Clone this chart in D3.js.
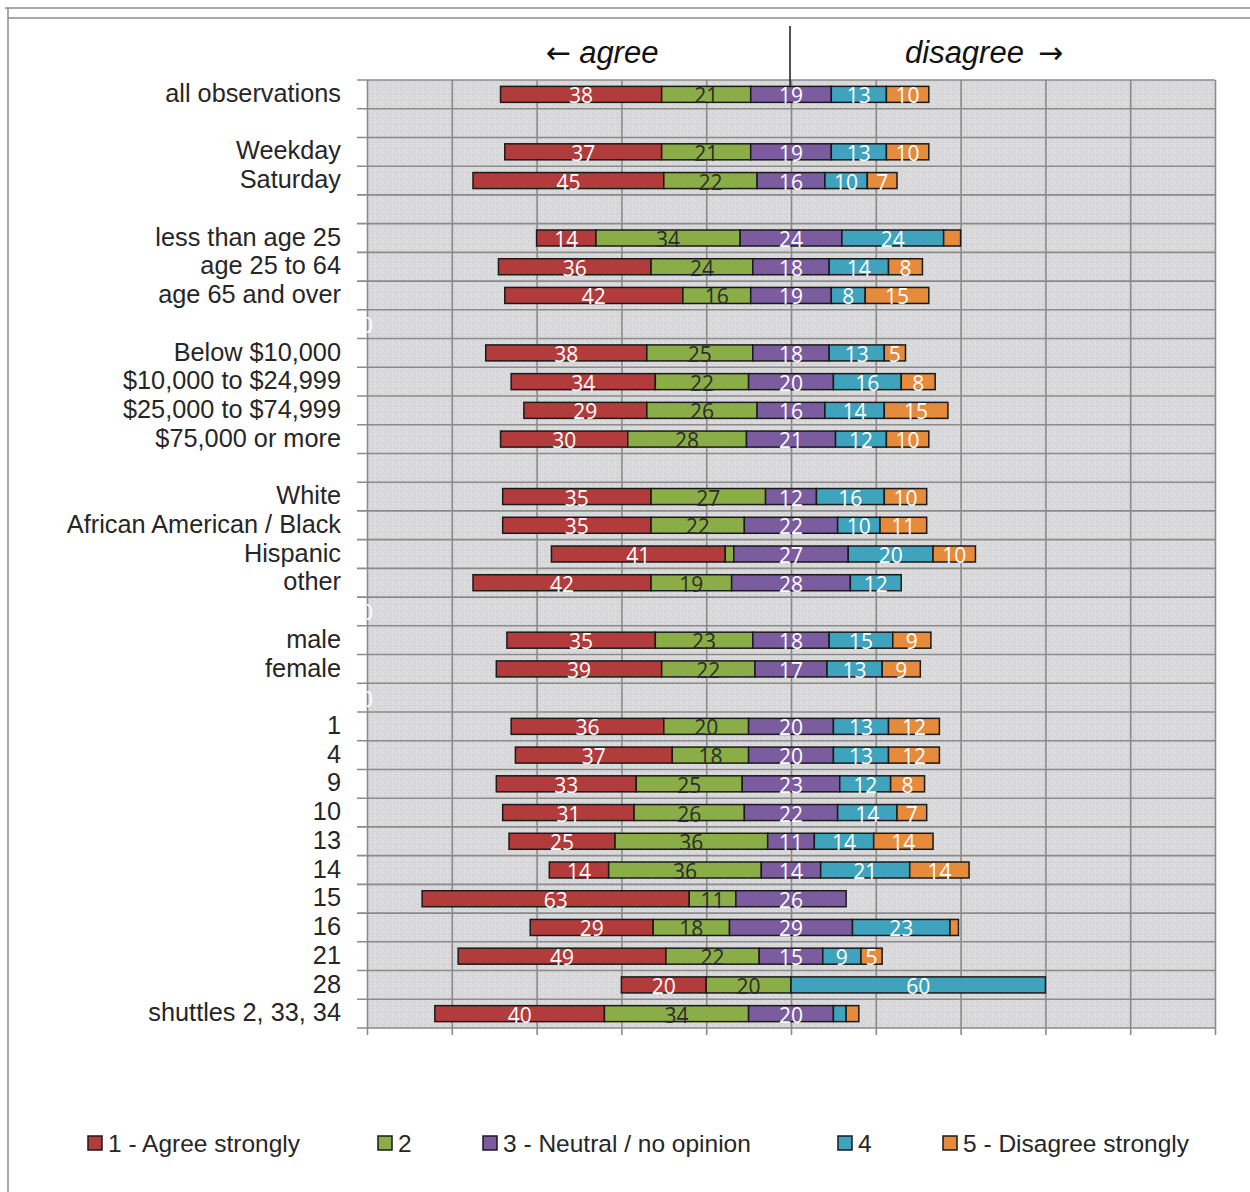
<!DOCTYPE html>
<html>
<head>
<meta charset="utf-8">
<script src="https://cdn.jsdelivr.net/npm/d3@7"></script>
<style>
  html, body { margin: 0; padding: 0; background: #ffffff; }
  svg { display: block; }
</style>
</head>
<body>
<svg id="chart" width="1250" height="1192"></svg>
<script>
// Row labels (empty strings are spacer rows between groups)
const categories = [
  "all observations", "",
  "Weekday", "Saturday", "",
  "less than age 25", "age 25 to 64", "age 65 and over", "",
  "Below $10,000", "$10,000 to $24,999", "$25,000 to $74,999", "$75,000 or more", "",
  "White", "African American / Black", "Hispanic", "other", "",
  "male", "female", "",
  "1", "4", "9", "10", "13", "14", "15", "16", "21", "28", "shuttles 2, 33, 34"
];

// Percent of responses per rating (null = spacer row)
const agreeStrongly    = [38, null, 37, 45, null, 14, 36, 42, null, 38, 34, 29, 30, null, 35, 35, 41, 42, null, 35, 39, null, 36, 37, 33, 31, 25, 14, 63, 29, 49, 20, 40];
const agree            = [21, null, 21, 22, null, 34, 24, 16, null, 25, 22, 26, 28, null, 27, 22,  2, 19, null, 23, 22, null, 20, 18, 25, 26, 36, 36, 11, 18, 22, 20, 34];
const neutral          = [19, null, 19, 16, null, 24, 18, 19, null, 18, 20, 16, 21, null, 12, 22, 27, 28, null, 18, 17, null, 20, 20, 23, 22, 11, 14, 26, 29, 15,  0, 20];
const disagree         = [13, null, 13, 10, null, 24, 14,  8, null, 13, 16, 14, 12, null, 16, 10, 20, 12, null, 15, 13, null, 13, 13, 12, 14, 14, 21,  0, 23,  9, 60,  3];
const disagreeStrongly = [10, null, 10,  7, null,  4,  8, 15, null,  5,  8, 15, 10, null, 10, 11, 10,  0, null,  9,  9, null, 12, 12,  8,  7, 14, 14,  0,  2,  5,  0,  3];

// Spacer rows whose offset series carries a visible "0" label
const zeroLabelRows = [8, 18, 21];

const seriesNames = ["1 - Agree strongly", "2", "3 - Neutral / no opinion", "4", "5 - Disagree strongly"];
const seriesColors = ["#b23c3c", "#8bad48", "#7b5d9f", "#3fa3be", "#e68a3b"];
const labelColors  = ["#ffffff", "#2b2b2b", "#ffffff", "#ffffff", "#ffffff"];
const xTicks = [-100, -80, -60, -40, -20, 0, 20, 40, 60, 80, 100];

const svg = d3.select("#chart");
const W = 1250, H = 1192;
const plot = { left: 367, right: 1215, top: 80, bottom: 1028 };
const textFont = "'Liberation Sans', Arial, sans-serif";

const x = d3.scaleLinear().domain([-100, 100]).range([plot.left, plot.right]);
const y = d3.scaleBand().domain(d3.range(categories.length)).range([plot.top, plot.bottom]).paddingInner(0);
const barH = 16;

// Textured plot background
const defs = svg.append("defs");
const pat = defs.append("pattern").attr("id", "speckle").attr("patternUnits", "userSpaceOnUse")
  .attr("width", 6).attr("height", 6);
pat.append("rect").attr("width", 6).attr("height", 6).attr("fill", "#d9d9d9");
[[0,0,"#cfcbd8"],[3,1,"#e4e4e4"],[1,3,"#d0d0d4"],[4,4,"#cbc8d6"],[5,2,"#e2e2e2"],[2,5,"#e6e6e6"]].forEach(([px, py, c]) =>
  pat.append("rect").attr("x", px).attr("y", py).attr("width", 1).attr("height", 1).attr("fill", c));
defs.append("clipPath").attr("id", "plotClip").append("rect")
  .attr("x", plot.left).attr("y", plot.top).attr("width", plot.right - plot.left).attr("height", plot.bottom - plot.top);

// Outer frame lines
const frame = svg.append("g").attr("stroke", "#8c8c8c").attr("stroke-width", 1.5).attr("fill", "none");
frame.append("line").attr("x1", 5).attr("x2", W).attr("y1", 8).attr("y2", 8);
frame.append("line").attr("x1", 8).attr("x2", W).attr("y1", 18).attr("y2", 18);
frame.append("line").attr("x1", 8).attr("x2", 8).attr("y1", 8).attr("y2", H);

svg.append("rect").attr("x", plot.left).attr("y", plot.top)
  .attr("width", plot.right - plot.left).attr("height", plot.bottom - plot.top)
  .attr("fill", "url(#speckle)");

// Vertical gridlines with ticks below the plot
const gx = svg.append("g").attr("transform", `translate(0,${plot.bottom + 7})`)
  .call(d3.axisBottom(x).tickValues(xTicks).tickSize(-(plot.bottom - plot.top + 7)).tickFormat(""));
gx.select(".domain").remove();
gx.selectAll(".tick line").attr("stroke", "#8a8a8a").attr("stroke-width", 1.6);

// Horizontal gridlines at row boundaries, with ticks left of the plot
const edges = d3.range(categories.length + 1).map(i => i < categories.length ? y(i) : plot.bottom);
svg.append("g").selectAll("line").data(edges).join("line")
  .attr("x1", plot.left - 10).attr("x2", plot.right)
  .attr("y1", d => d).attr("y2", d => d)
  .attr("stroke", "#8a8a8a").attr("stroke-width", 1.6);

// Category axis labels
const gy = svg.append("g").attr("transform", `translate(${plot.left},0)`)
  .call(d3.axisLeft(y).tickSize(0).tickPadding(26).tickFormat(i => categories[i]));
gy.select(".domain").remove();
gy.selectAll("text").attr("font-family", textFont).attr("font-size", 25.3)
  .attr("fill", "#262626").attr("dy", "0.3em");

// Build diverging segments: bar centred on the middle of the neutral share
const allSeries = [agreeStrongly, agree, neutral, disagree, disagreeStrongly];
const segments = [];
categories.forEach((c, i) => {
  if (agreeStrongly[i] === null) return;
  let start = -(agreeStrongly[i] + agree[i] + neutral[i] / 2);
  allSeries.forEach((s, k) => {
    const v = s[i];
    if (v > 0) segments.push({ row: i, k, v, x0: start, x1: start + v });
    start += v;
  });
});

const bars = svg.append("g");
bars.selectAll("rect").data(segments).join("rect")
  .attr("x", d => x(d.x0)).attr("width", d => x(d.x1) - x(d.x0))
  .attr("y", d => y(d.row) + y.bandwidth() / 2 - barH / 2).attr("height", barH)
  .attr("fill", d => seriesColors[d.k])
  .attr("stroke", "#1a1a1a").attr("stroke-width", 1.5);

// Value labels
bars.selectAll("text").data(segments.filter(d => d.v >= 5)).join("text")
  .attr("x", d => x((d.x0 + d.x1) / 2))
  .attr("y", d => y(d.row) + y.bandwidth() / 2 + 9)
  .attr("text-anchor", "middle")
  .attr("font-family", "'Open Sans', sans-serif").attr("font-size", 21)
  .attr("fill", d => labelColors[d.k])
  .text(d => d.v);

// Offset-series zero labels, clipped at the plot edge
svg.append("g").attr("clip-path", "url(#plotClip)")
  .selectAll("text").data(zeroLabelRows).join("text")
  .attr("x", x(-100)).attr("y", d => y(d) + y.bandwidth() / 2 + 9)
  .attr("text-anchor", "middle")
  .attr("font-family", "'Open Sans', sans-serif").attr("font-size", 21)
  .attr("fill", "#ffffff").text("0");

// Direction annotations
svg.append("line").attr("x1", x(0) - 1).attr("x2", x(0) - 1).attr("y1", 26).attr("y2", 86)
  .attr("stroke", "#1a1a1a").attr("stroke-width", 1.5);
const arrowFont = "'DejaVu Sans', sans-serif";
const agreeText = svg.append("text").attr("x", 546).attr("y", 63)
  .attr("font-family", textFont).attr("font-size", 31).attr("fill", "#111");
agreeText.append("tspan").attr("font-family", arrowFont).attr("font-size", 30).text("\u2190");
agreeText.append("tspan").attr("dx", 8).attr("font-style", "italic").text("agree");
const disagreeText = svg.append("text").attr("x", 905).attr("y", 63)
  .attr("font-family", textFont).attr("font-size", 31).attr("fill", "#111");
disagreeText.append("tspan").attr("font-style", "italic").text("disagree");
disagreeText.append("tspan").attr("dx", 14).attr("font-family", arrowFont).attr("font-size", 30).text("\u2192");

// Legend
const legendX = [88, 378, 483, 838, 943];
const legend = svg.append("g").selectAll("g").data(seriesNames).join("g")
  .attr("transform", (d, i) => `translate(${legendX[i]},1143)`);
legend.append("rect").attr("x", 0).attr("y", -7).attr("width", 14).attr("height", 14)
  .attr("fill", (d, i) => seriesColors[i]).attr("stroke", "#1a1a1a").attr("stroke-width", 1.5);
legend.append("text").attr("x", 20).attr("y", 0).attr("dy", "0.35em")
  .attr("font-family", textFont).attr("font-size", 24.5).attr("fill", "#262626")
  .text(d => d);
</script>
</body>
</html>
